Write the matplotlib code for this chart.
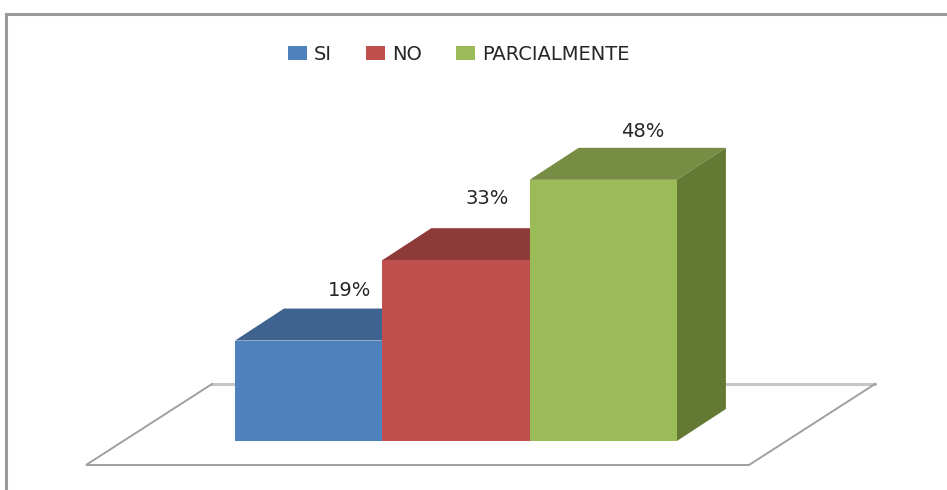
import matplotlib
matplotlib.use('Agg')
import matplotlib.pyplot as plt
from matplotlib.patches import Polygon

categories = ['SI', 'NO', 'PARCIALMENTE']
values = [18.5, 33.3, 48.1]
value_labels = ['19%', '33%', '48%']
face_colors = ['#4F81BD', '#C0504D', '#9BBB59']
top_colors = ['#3E6390', '#8E3A38', '#768D43']
side_colors = ['#34506F', '#6E2C2A', '#647934']

W, H = 947, 490
# pixels per category / per percent, baseline position in the picture
px_x = 147.3
px_y = 5.43
x0_px = 235
base_px = 441
depth_x = 49 / px_x
depth_y = 32 / px_y

fig = plt.figure(figsize=(W / 100, H / 100), dpi=100)
ax = fig.add_axes([0, 0, 1, 1])
ax.set_xlim(-0.5 - x0_px / px_x, -0.5 + (W - x0_px) / px_x)
ax.set_ylim(-(H - base_px) / px_y, base_px / px_y)
ax.axis('off')

# outer frame of the chart
ax.plot([6 / W, 6 / W, 1], [0, 1 - 14 / H, 1 - 14 / H], transform=ax.transAxes,
        color='#9a9a9a', lw=2.2, solid_joinstyle='miter', clip_on=False)

# floor
fl = [-0.5 - 149 / px_x, -0.5 + 514 / px_x]
fl_front = -24 / px_y
fl_back = 57 / px_y
fl_dx = 126 / px_x
ax.plot([fl[0] + fl_dx, fl[1] + fl_dx], [fl_back, fl_back], color='#c6c6c6', lw=2.2, zorder=1)
ax.plot([fl[0] + fl_dx, fl[0], fl[1], fl[1] + fl_dx], [fl_back, fl_front, fl_front, fl_back],
        color='#a0a0a0', lw=1.4, zorder=1, solid_joinstyle='miter')

# fake 3d bars, drawn left to right so each one hides the previous
for i, v in enumerate(values):
    z = 2 + i
    l, r = i - 0.5, i + 0.5
    ax.add_patch(Polygon([(l, v), (r, v), (r + depth_x, v + depth_y), (l + depth_x, v + depth_y)],
                         color=top_colors[i], lw=0, zorder=z))
    ax.add_patch(Polygon([(r, 0), (r + depth_x, depth_y), (r + depth_x, v + depth_y), (r, v)],
                         color=side_colors[i], lw=0, zorder=z))
    ax.bar(i, v, width=1, color=face_colors[i], label=categories[i], zorder=z)

label_offsets = [(41, 50), (31, 62), (39, 48)]
for i, v in enumerate(values):
    ax.annotate(value_labels[i], xy=(i, v), xytext=label_offsets[i], textcoords='offset pixels',
                ha='center', va='center', fontsize=14, color='#262626', zorder=10)

ax.legend(loc='center left', bbox_to_anchor=(288 / W, 1 - 54 / H), ncol=3, frameon=False,
          fontsize=14, handlelength=0.98, handleheight=0.72, handletextpad=0.36,
          columnspacing=1.75, labelcolor='#262626', borderpad=0, borderaxespad=0)

fig.savefig('out.png', dpi=100)
